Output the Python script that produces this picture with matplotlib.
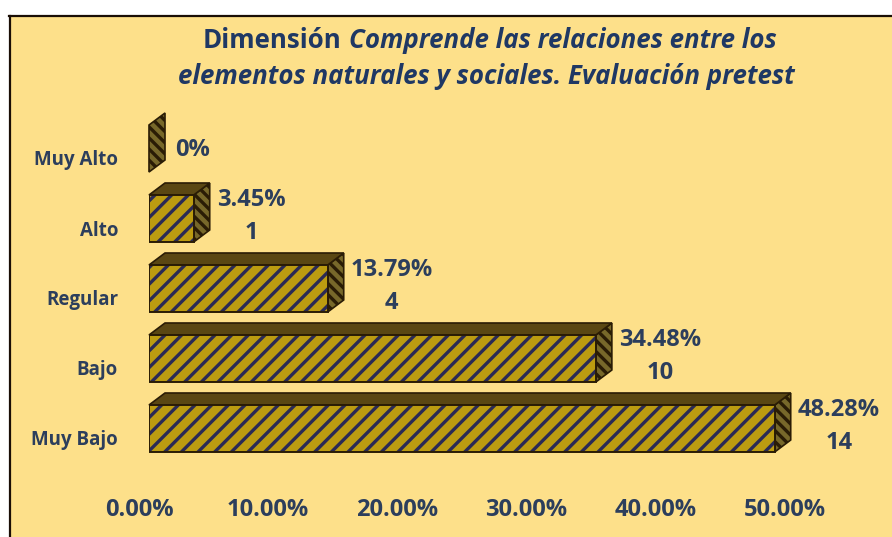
import matplotlib
matplotlib.use("Agg")
import matplotlib.pyplot as plt
from matplotlib.patches import Polygon, Rectangle
from matplotlib.lines import Line2D

categories = ["Muy Bajo", "Bajo", "Regular", "Alto", "Muy Alto"]
percent = [48.28, 34.48, 13.79, 3.45, 0.0]
percent_labels = ["48.28%", "34.48%", "13.79%", "3.45%", "0%"]
counts = [14, 10, 4, 1, 0]
tick_values = [0, 10, 20, 30, 40, 50]
tick_labels = ["0.00%", "10.00%", "20.00%", "30.00%", "40.00%", "50.00%"]

W, H = 892, 537
BG = "#FDE08A"
GOLD = "#BC9C10"
TEXT = "#2C3E5C"
TITLE = "#1F3864"
plt.rcParams["font.family"] = ["Open Sans", "DejaVu Sans"]
plt.rcParams["hatch.linewidth"] = 2.4

fig = plt.figure(figsize=(W / 100, H / 100), dpi=100, facecolor="white")


def box(x0, y0, x1, y1):
    return [x0 / W, 1 - y1 / H, (x1 - x0) / W, (y1 - y0) / H]


fig.add_artist(Rectangle((9 / W, 0), 1 - 9 / W, 1 - 16 / H, transform=fig.transFigure,
                         facecolor=BG, edgecolor="none", zorder=-5))
fig.add_artist(Line2D([9.5 / W, 9.5 / W], [0, 1 - 16 / H], color="#1a0e05", lw=1.6))
fig.add_artist(Line2D([9 / W, 1], [1 - 16 / H, 1 - 16 / H], color="#1a0e05", lw=1.6))

# main axes: 0..50 % spans 149..797 px; five categories 70 px apart
ax = fig.add_axes(box(149, 113.5, 797, 463.5))
ax.set_xlim(0, 50)
ax.set_ylim(-0.5, 4.5)
ax.axis("off")
ax.patch.set_alpha(0)

height = 47 / 70
depth_x = 16 / (648 / 50)
depth_y = 12 / 70
EDGE = "#2a1c05"

for i, (name, v) in enumerate(zip(categories, percent)):
    y0, y1 = i - height / 2, i + height / 2
    side = [(v, y0), (v + depth_x, y0 + depth_y), (v + depth_x, y1 + depth_y), (v, y1)]
    ax.add_patch(Polygon(side, closed=True, facecolor="#77682A", edgecolor=EDGE, hatch="\\\\\\",
                         lw=1.2, zorder=2, clip_on=False))
    if v > 0:
        top = [(0, y1), (depth_x, y1 + depth_y), (v + depth_x, y1 + depth_y), (v, y1)]
        ax.add_patch(Polygon(top, closed=True, facecolor="#5A4713", edgecolor=EDGE, lw=1.2,
                             zorder=2, clip_on=False))
        ax.barh(i, v, height=height, color=GOLD, edgecolor="#2A2A55", hatch="//", lw=0, zorder=3)
        ax.barh(i, v, height=height, color="none", edgecolor=EDGE, lw=1.4, zorder=4)
    two_lines = counts[i] > 0
    text = f"{percent_labels[i]}\n{counts[i]}" if two_lines else percent_labels[i]
    ax.annotate(text, (v, i), xytext=((23 if two_lines else 26) * 0.72, (2 if two_lines else -2) * 0.72),
                textcoords="offset points", ha="left", va="center", multialignment="center",
                fontsize=17, fontweight="bold", color=TEXT, linespacing=1.45, zorder=5)

# category labels sit a little below the bar centres
for i, name in enumerate(categories):
    ax.annotate(name, (0, i), xytext=((118 - 149) * 0.72, -12 * 0.72),
                textcoords="offset points", ha="right", va="center",
                fontsize=13.5, fontweight="bold", color=TEXT)

# value axis labels use the bar scale, shifted slightly left
tax = fig.add_axes(box(139, 498, 785, 518))
tax.set_xlim(0, 50)
tax.set_ylim(0, 1)
tax.patch.set_alpha(0)
for s in tax.spines.values():
    s.set_visible(False)
tax.set_yticks([])
tax.set_xticks(tick_values)
tax.set_xticklabels(tick_labels, fontsize=17, fontweight="bold", color=TEXT)
tax.tick_params(axis="x", length=0, pad=0)
for t in tax.get_xticklabels():
    t.set_y(1.0)

t1 = fig.text(203 / W, 1 - 40 / H, "Dimensión", ha="left", va="center", fontsize=18.6,
              fontweight="bold", color=TITLE)
fig.canvas.draw()
bb = t1.get_window_extent()
fig.text((bb.x1 + 7) / W, 1 - 40 / H, "Comprende las relaciones entre los", ha="left", va="center",
         fontsize=18.6, fontweight="bold", style="italic", color=TITLE)
fig.text(486 / W, 1 - 76 / H, "elementos naturales y sociales. Evaluación pretest", ha="center",
         va="center", fontsize=18.6, fontweight="bold", style="italic", color=TITLE)

fig.savefig("out.png", dpi=100, facecolor="white")
